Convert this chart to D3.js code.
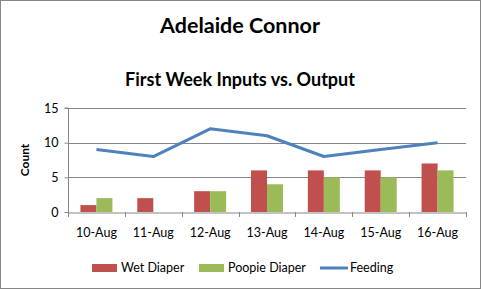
<!DOCTYPE html>
<html>
<head>
<meta charset="utf-8">
<script src="https://cdn.jsdelivr.net/npm/d3@7"></script>
<style>
  body { margin: 0; background: #fff; }
  text { font-family: Lato, "Open Sans", sans-serif; }
</style>
</head>
<body>
<div id="chart"></div>
<script>
// chart data
var days = ["10-Aug", "11-Aug", "12-Aug", "13-Aug", "14-Aug", "15-Aug", "16-Aug"];
var wetDiaper = [1, 2, 3, 6, 6, 6, 7];
var poopieDiaper = [2, 0, 3, 4, 5, 5, 6];
var feeding = [9, 8, 12, 11, 8, 9, 10];
var yTicks = [0, 5, 10, 15];

var W = 481, H = 289;
var plot = {left: 68, right: 466, top: 108, bottom: 212};

var svg = d3.select("#chart").append("svg")
    .attr("width", W)
    .attr("height", H);

// outer border
svg.append("rect")
    .attr("x", 0.5).attr("y", 0.5)
    .attr("width", W - 1).attr("height", H - 1)
    .attr("fill", "#fff")
    .attr("stroke", "#868686");

var x = d3.scaleBand()
    .domain(days)
    .range([plot.left, plot.right]);

var y = d3.scaleLinear()
    .domain([0, 15])
    .range([plot.bottom, plot.top]);

// gridlines
svg.selectAll(".grid")
    .data(yTicks.slice(1))
    .enter().append("line")
    .attr("x1", plot.left).attr("x2", plot.right)
    .attr("y1", function(d) { return Math.round(y(d)) + 0.5; })
    .attr("y2", function(d) { return Math.round(y(d)) + 0.5; })
    .attr("stroke", "#868686")
    .attr("stroke-width", 1);

// bars
var barW = 16;
svg.selectAll(".wet")
    .data(wetDiaper)
    .enter().append("rect")
    .attr("x", function(d, i) { return x(days[i]) + x.bandwidth() / 2 - barW; })
    .attr("y", function(d) { return y(d); })
    .attr("width", barW)
    .attr("height", function(d) { return y(0) - y(d); })
    .attr("fill", "#C0504D");

svg.selectAll(".poop")
    .data(poopieDiaper)
    .enter().append("rect")
    .attr("x", function(d, i) { return x(days[i]) + x.bandwidth() / 2; })
    .attr("y", function(d) { return y(d); })
    .attr("width", barW)
    .attr("height", function(d) { return y(0) - y(d); })
    .attr("fill", "#9BBB59");

// feeding line
var line = d3.line()
    .x(function(d, i) { return x(days[i]) + x.bandwidth() / 2; })
    .y(function(d) { return y(d); });

svg.append("path")
    .datum(feeding)
    .attr("d", line)
    .attr("fill", "none")
    .attr("stroke", "#4F81BD")
    .attr("stroke-width", 3)
    .attr("stroke-linejoin", "round");

// y axis
var yAxis = svg.append("g")
    .attr("transform", "translate(" + (plot.left + 0.5) + ",0)")
    .call(d3.axisLeft(y).tickValues(yTicks).tickSize(4).tickPadding(6));
yAxis.select(".domain").attr("stroke", "#868686").attr("d", "M-4," + plot.top + "H0V" + plot.bottom);
yAxis.selectAll(".tick line").attr("stroke", "#868686");
yAxis.selectAll("text").attr("font-size", 12.5).attr("fill", "#000")
    .style("font-family", "Lato, sans-serif");

// x axis
var xAxis = svg.append("g")
    .attr("transform", "translate(0," + (plot.bottom + 0.5) + ")")
    .call(d3.axisBottom(x).tickSize(0).tickPadding(16));
xAxis.select(".domain").attr("stroke", "#868686");
xAxis.selectAll("text").attr("font-size", 12.5).attr("fill", "#000")
    .style("font-family", "Lato, sans-serif");

// category separator ticks
var seps = days.map(function(d) { return x(d); }).concat([plot.right]);
svg.selectAll(".sep")
    .data(seps)
    .enter().append("line")
    .attr("x1", function(d) { return Math.round(d) + 0.5; })
    .attr("x2", function(d) { return Math.round(d) + 0.5; })
    .attr("y1", plot.bottom)
    .attr("y2", plot.bottom + 5)
    .attr("stroke", "#868686");

// y label
svg.append("text")
    .attr("transform", "translate(29," + ((plot.top + plot.bottom) / 2) + ") rotate(-90)")
    .attr("text-anchor", "middle")
    .attr("font-size", 12)
    .attr("font-weight", "bold")
    .text("Count");

// titles
svg.append("text")
    .attr("x", 240).attr("y", 33)
    .attr("text-anchor", "middle")
    .attr("font-size", 21.5)
    .attr("font-weight", "bold")
    .text("Adelaide Connor");

svg.append("text")
    .attr("x", 240).attr("y", 86)
    .attr("text-anchor", "middle")
    .attr("font-size", 18)
    .attr("font-weight", "bold")
    .text("First Week Inputs vs. Output");

// legend
var legendItems = [
    {name: "Wet Diaper", color: "#C0504D", type: "rect", x: 92},
    {name: "Poopie Diaper", color: "#9BBB59", type: "rect", x: 199},
    {name: "Feeding", color: "#4F81BD", type: "line", x: 320}
];
var lg = svg.selectAll(".legend")
    .data(legendItems)
    .enter().append("g")
    .attr("transform", function(d) { return "translate(" + d.x + ",268)"; });

lg.filter(function(d) { return d.type === "rect"; })
    .append("rect")
    .attr("x", 0).attr("y", -4)
    .attr("width", 25).attr("height", 8)
    .attr("fill", function(d) { return d.color; });

lg.filter(function(d) { return d.type === "line"; })
    .append("line")
    .attr("x1", 0).attr("x2", 28)
    .attr("y1", 0).attr("y2", 0)
    .attr("stroke", function(d) { return d.color; })
    .attr("stroke-width", 3);

lg.append("text")
    .attr("x", function(d) { return d.type === "rect" ? 29 : 30; })
    .attr("y", 4)
    .attr("font-size", 12.5)
    .text(function(d) { return d.name; });
</script>
</body>
</html>
